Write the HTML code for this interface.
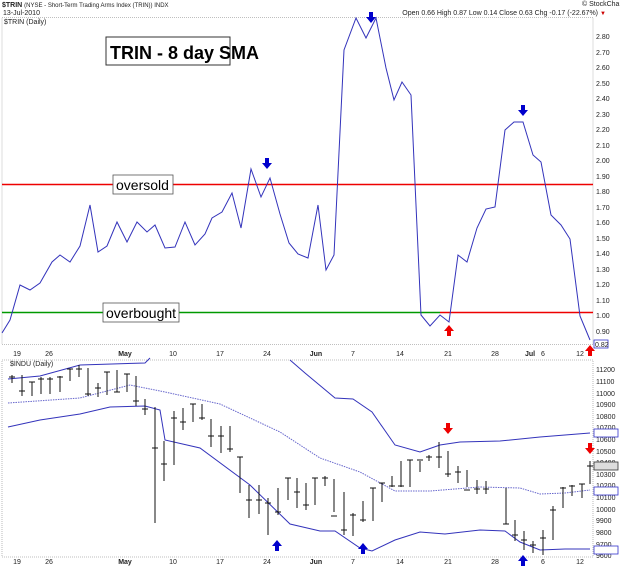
<!DOCTYPE html>
<html><head><style>
body{margin:0;background:#fff;}
svg{display:block;font-family:"Liberation Sans",sans-serif;}
.t{font-size:7px;fill:#222}
</style></head><body>
<svg width="620" height="568" viewBox="0 0 620 568">
<rect width="620" height="568" fill="#fff"/>
<text x="2" y="7" class="t" font-weight="bold" font-size="8">$TRIN <tspan font-weight="normal" font-size="6">(NYSE - Short-Term Trading Arms Index (TRIN))  INDX</tspan></text>
<text x="3" y="15" class="t" font-size="6">13-Jul-2010</text>
<text x="582" y="6" class="t" font-size="6">© StockCharts.com</text>
<text x="598" y="15" class="t" font-size="6" text-anchor="end">Open 0.66 High 0.87 Low 0.14 Close 0.63 Chg -0.17 (-22.67%)</text>
<text x="600" y="15" font-size="6" fill="#c00">▼</text>
<!-- top panel -->
<rect x="2" y="17.5" width="591" height="327" fill="none" stroke="#aaa" stroke-width="0.8" stroke-dasharray="1,1"/>
<text x="4" y="24" class="t" font-size="6">$TRIN (Daily)</text>
<g class="t" font-size="6">
<text x="596" y="39">2.80</text><text x="596" y="55">2.70</text><text x="596" y="70">2.60</text><text x="596" y="86">2.50</text><text x="596" y="101">2.40</text><text x="596" y="117">2.30</text><text x="596" y="132">2.20</text><text x="596" y="148">2.10</text><text x="596" y="163">2.00</text><text x="596" y="179">1.90</text><text x="596" y="194">1.80</text><text x="596" y="210">1.70</text><text x="596" y="225">1.60</text><text x="596" y="241">1.50</text><text x="596" y="256">1.40</text><text x="596" y="272">1.30</text><text x="596" y="287">1.20</text><text x="596" y="303">1.10</text><text x="596" y="318">1.00</text><text x="596" y="334">0.90</text>
</g>
<rect x="594" y="340" width="14" height="8" fill="#fff" stroke="#33c" stroke-width="0.8"/><text x="595" y="347" class="t" font-size="6">0.82</text>
<line x1="2" y1="184.5" x2="593" y2="184.5" stroke="#e00" stroke-width="1.5"/>
<line x1="2" y1="312.5" x2="440" y2="312.5" stroke="#090" stroke-width="1.5"/>
<line x1="440" y1="312.5" x2="593" y2="312.5" stroke="#e00" stroke-width="1.5"/>
<polyline fill="none" stroke="#33b" stroke-width="1" points="2,333 10,320 20,285 30,290 40,283 52,262 60,255 70,262 80,246 90,205 98,252 107,246 117,222 127,242 137,222 147,232 155,225 165,248 175,247 185,222 195,245 205,234 212,218 222,212 232,193 241,228 251,169 261,197 270,178 280,214 289,243 298,254 308,258 318,205 326,270 334,255 344,50 356,18 366,38 376,18 386,68 394,100 402,82 411,95 421,315 430,326 440,315 449,322 458,255 467,262 477,228 486,209 495,207 505,130 514,122 523,122 533,155 541,162 551,215 561,225 570,239 580,316 590,340"/>
<rect x="106" y="37" width="124" height="28" fill="#fff" stroke="#333" stroke-width="1"/>
<text x="110" y="59" font-size="18" font-weight="bold" fill="#000">TRIN - 8 day SMA</text>
<rect x="113" y="175" width="60" height="19" fill="#fff" stroke="#555" stroke-width="0.8"/>
<text x="116" y="190" font-size="14" fill="#000">oversold</text>
<rect x="103" y="303" width="76" height="19" fill="#fff" stroke="#555" stroke-width="0.8"/>
<text x="106" y="318" font-size="14" fill="#000">overbought</text>
<g fill="#00c">
<path d="M265,158h4v5h3l-5,6l-5,-6h3z"/><path d="M369,12h4v5h3l-5,6l-5,-6h3z"/><path d="M521,105h4v5h3l-5,6l-5,-6h3z"/>
</g>
<g fill="#e00">
<path d="M447,336h4v-5h3l-5,-6l-5,6h3z"/><path d="M588,356h4v-5h3l-5,-6l-5,6h3z"/>
</g>
<g class="t" font-size="6" text-anchor="middle">
<text x="17" y="356">19</text><text x="49" y="356">26</text><text x="125" y="356" font-weight="bold">May</text><text x="173" y="356">10</text><text x="220" y="356">17</text><text x="267" y="356">24</text><text x="316" y="356" font-weight="bold">Jun</text><text x="353" y="356">7</text><text x="400" y="356">14</text><text x="448" y="356">21</text><text x="495" y="356">28</text><text x="530" y="356" font-weight="bold">Jul</text><text x="543" y="356">6</text><text x="580" y="356">12</text>
</g>
<!-- bottom panel -->
<rect x="2" y="360" width="591" height="197" fill="none" stroke="#aaa" stroke-width="0.8" stroke-dasharray="1,1"/>
<text x="10" y="366" class="t" font-size="6">$INDU (Daily)</text>
<g class="t" font-size="6">
<text x="596" y="372">11200</text><text x="596" y="384">11100</text><text x="596" y="396">11000</text><text x="596" y="407">10900</text><text x="596" y="419">10800</text><text x="596" y="430">10700</text><text x="596" y="442">10600</text><text x="596" y="454">10500</text><text x="596" y="465">10400</text><text x="596" y="477">10300</text><text x="596" y="488">10200</text><text x="596" y="500">10100</text><text x="596" y="512">10000</text><text x="596" y="523">9900</text><text x="596" y="535">9800</text><text x="596" y="547">9700</text><text x="596" y="558">9600</text>
</g>
<rect x="594" y="429" width="24" height="8" fill="#fff" stroke="#33c" stroke-width="0.8"/>
<rect x="594" y="462" width="24" height="8" fill="#ddd" stroke="#333" stroke-width="0.8"/>
<rect x="594" y="487" width="24" height="8" fill="#fff" stroke="#33c" stroke-width="0.8"/>
<rect x="594" y="546" width="24" height="8" fill="#fff" stroke="#33c" stroke-width="0.8"/>
<polyline fill="none" stroke="#33b" stroke-width="1" points="8,379 40,376 80,365 145,363 150,358"/>
<polyline fill="none" stroke="#33b" stroke-width="1" points="290,360 305,373 335,398 353,399 372,412 395,445 420,452 440,445 460,442 500,441 540,437 565,435 590,433"/>
<polyline fill="none" stroke="#66c" stroke-width="1" stroke-dasharray="1.5,1" points="8,403 80,398 130,385 165,392 220,404 280,432 320,458 360,472 395,491 430,491 480,487 520,488 540,494 565,493 590,490"/>
<polyline fill="none" stroke="#33b" stroke-width="1" points="8,427 40,420 80,414 110,407 145,406 160,410 165,440 200,448 250,485 290,524 320,531 335,531 360,548 372,551 395,540 420,532 445,534 480,530 505,531 520,542 540,550 565,549 590,549"/>
<g stroke="#111" stroke-width="1" fill="none" id="bars"></g>
<g fill="#00c">
<path d="M275,551h4v-5h3l-5,-6l-5,6h3z"/><path d="M361,554h4v-5h3l-5,-6l-5,6h3z"/><path d="M521,566h4v-5h3l-5,-6l-5,6h3z"/>
</g>
<g fill="#e00">
<path d="M446,423h4v5h3l-5,6l-5,-6h3z"/><path d="M588,443h4v5h3l-5,6l-5,-6h3z"/>
</g>
<g class="t" font-size="6" text-anchor="middle">
<text x="17" y="564">19</text><text x="49" y="564">26</text><text x="125" y="564" font-weight="bold">May</text><text x="173" y="564">10</text><text x="220" y="564">17</text><text x="267" y="564">24</text><text x="316" y="564" font-weight="bold">Jun</text><text x="353" y="564">7</text><text x="400" y="564">14</text><text x="448" y="564">21</text><text x="495" y="564">28</text><text x="543" y="564">6</text><text x="580" y="564">12</text>
</g>
<g stroke="#111" stroke-width="1">
<path d="M12,375V383M9,377H15 M22,375V396M19,391H25 M32,382V396M29,382H35 M41,377V394M38,379H44 M50,377V394M47,379H53 M60,376V392M57,377H63 M70,369V381M67,369H73 M79,365V377M76,369H82 M88,368V396M85,394H91 M98,383V397M95,388H101 M107,372V395M104,372H110 M117,370V392M114,392H120 M127,374V392M124,374H130 M136,376V406M133,401H139 M145,399V415M142,409H148 M155,407V523M152,448H158 M164,441V481M161,464H167 M174,411V465M171,418H177 M183,408V430M180,422H186 M193,404V422M190,404H196 M202,404V420M199,418H205 M211,419V447M208,436H214 M221,426V453M218,436H224 M230,426V452M227,449H233 M240,457V493M237,457H243 M249,485V518M246,500H252 M259,485V514M256,500H262 M268,498V535M265,503H271 M278,488V515M275,512H281 M288,478V500M285,478H291 M297,478V508M294,492H300 M306,483V510M303,505H309 M315,478V505M312,478H318 M325,476V486M322,478H328 M334,479V512M331,516H337 M344,492V535M341,530H347 M353,513V536M350,515H356 M363,501V522M360,520H366 M373,488V521M370,488H376 M382,483V502M379,483H385 M392,476V487M389,486H395 M401,461V487M398,486H404 M410,460V487M407,460H413 M420,461V472M417,460H423 M429,455V461M426,457H432 M439,442V468M436,457H442 M448,451V477M445,474H451 M458,466V483M455,472H461 M467,470V487M464,490H470 M477,480V494M474,489H480 M486,481V494M483,489H489 M506,488V524M503,524H509 M515,520V541M512,535H518 M524,531V550M521,540H527 M533,541V553M530,545H536 M543,530V555M540,538H546 M553,506V540M550,510H556 M563,487V508M560,488H566 M572,485V496M569,486H575 M582,484V498M579,484H585 M590,461V484M587,466H593"/>
</g>
</svg>
</body></html>
